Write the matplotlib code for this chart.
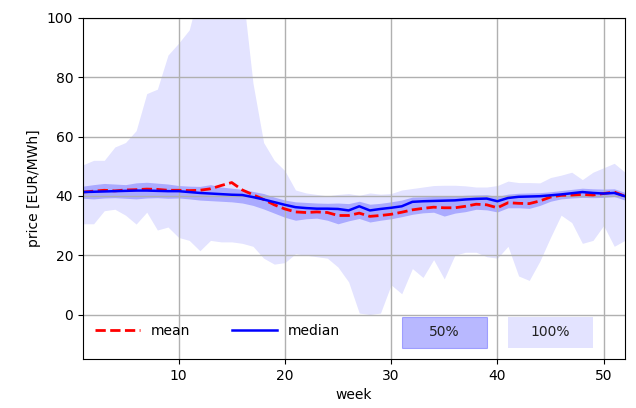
import numpy as np
import matplotlib
matplotlib.use("Agg")
import matplotlib.pyplot as plt
from matplotlib.patches import Rectangle

# weekly price statistics [EUR/MWh]
weeks = np.arange(1, 53)

median = [41.3, 41.4, 41.5, 41.6, 41.7, 41.8, 41.8, 41.7, 41.6, 41.6,
          41.3, 41.0, 40.8, 40.6, 40.4, 40.3, 39.6, 38.8, 37.9, 37.0,
          36.2, 35.9, 35.7, 35.7, 35.6, 35.1, 36.5, 35.1, 35.6, 36.0,
          36.5, 38.0, 38.2, 38.3, 38.4, 38.5, 38.8, 39.0, 39.1, 38.2,
          39.3, 39.7, 39.8, 39.9, 40.2, 40.5, 40.9, 41.3, 41.0, 40.8,
          41.0, 39.9]

mean = [41.3, 41.6, 41.9, 41.7, 42.0, 42.1, 42.3, 42.2, 41.9, 41.9,
        41.8, 41.9, 42.4, 43.5, 44.5, 42.0, 40.4, 38.8, 37.0, 35.6,
        34.6, 34.4, 34.6, 34.4, 33.4, 33.4, 34.2, 33.1, 33.4, 33.8,
        34.5, 35.3, 35.8, 36.2, 36.0, 36.0, 36.5, 37.2, 37.0, 36.0,
        37.7, 37.5, 37.4, 38.3, 39.6, 40.2, 40.3, 40.5, 40.3, 40.8,
        41.3, 39.9]

q75 = [43.3, 43.8, 44.2, 44.0, 43.8, 44.4, 44.6, 44.3, 44.0, 43.5,
       43.3, 43.2, 43.8, 43.0, 42.6, 42.2, 41.5, 40.8, 39.6, 38.6,
       38.0, 37.8, 37.6, 37.5, 37.6, 37.4, 38.2, 37.2, 37.5, 38.0,
       38.6, 39.6, 39.7, 39.8, 39.9, 40.0, 40.2, 40.3, 40.4, 39.8,
       40.6, 40.9, 41.0, 41.1, 41.4, 41.8, 42.2, 42.6, 42.4, 42.3,
       42.4, 41.2]

q25 = [39.2, 39.0, 39.3, 39.4, 39.2, 39.0, 39.3, 39.4, 39.2, 39.3,
       39.0, 38.6, 38.4, 38.2, 38.0, 37.6, 36.8, 35.6, 34.2, 32.8,
       31.8, 32.3, 32.5, 31.8, 30.6, 31.6, 32.4, 31.2, 31.8, 32.3,
       33.0, 33.8, 34.3, 34.5, 33.2, 34.2, 34.7, 35.5, 35.3, 34.6,
       36.0, 36.0, 35.8, 36.8, 38.2, 39.0, 39.3, 39.5, 39.4, 39.5,
       39.8, 38.6]

pmax = [50.5, 52.0, 52.0, 56.5, 58.0, 62.0, 74.5, 76.0, 87.5, 91.5,
        96.0, 110.0, 120.0, 125.0, 120.0, 110.0, 78.0, 58.0, 52.0, 48.5,
        42.0, 41.0, 40.5, 40.0, 40.5, 40.8, 40.2, 41.0, 40.6, 40.8,
        42.0, 42.5, 43.0, 43.5, 43.6, 43.6, 43.4, 43.0, 43.0, 43.5,
        45.0, 44.5, 44.5, 44.4, 46.2, 47.0, 48.0, 45.5, 48.0, 49.5,
        51.0, 48.0]

pmin = [30.6, 30.6, 35.0, 35.5, 33.5, 30.5, 34.5, 28.5, 29.5, 26.0,
        25.0, 21.5, 25.0, 24.5, 24.5, 24.0, 23.0, 19.0, 17.0, 17.5,
        20.5, 20.0, 19.5, 19.0, 16.0, 11.0, 0.5, 0.0, 0.5, 10.0,
        7.0, 15.5, 12.5, 18.5, 12.0, 20.0, 21.0, 21.0, 19.5, 19.0,
        23.0, 13.0, 11.5, 18.0, 26.0, 33.5, 31.0, 24.0, 25.0, 30.0,
        23.0, 25.0]

fig = plt.figure(figsize=(6.36, 4.08), dpi=100)
ax = fig.add_axes([0.1305, 0.12, 0.852, 0.836])

ax.fill_between(weeks, pmin, pmax, color='blue', alpha=0.11, linewidth=0)
ax.fill_between(weeks, q25, q75, color='blue', alpha=0.25, linewidth=0)
ax.plot(weeks, mean, 'r--', linewidth=2, label='mean')
ax.plot(weeks, median, 'b-', linewidth=1.8, label='median')

# band legend boxes
ax.add_patch(Rectangle((31, -11.2), 8, 10.3, facecolor='blue', alpha=0.28,
                       edgecolor='blue', linewidth=0.8))
ax.text(35, -6, '50%', ha='center', va='center', fontsize=10, color='#222222')
ax.add_patch(Rectangle((41, -11.2), 8, 10.3, facecolor='blue', alpha=0.11,
                       linewidth=0))
ax.text(45, -6, '100%', ha='center', va='center', fontsize=10, color='#222222')

ax.legend(loc='lower left', ncol=2, frameon=False, handlelength=3.2,
          columnspacing=3.0, bbox_to_anchor=(0.0, 0.025))

ax.set_xlim(1, 52)
ax.set_ylim(-15, 100)
ax.set_yticks([0, 20, 40, 60, 80, 100])
ax.set_xticks([10, 20, 30, 40, 50])
ax.grid(True, color='#b0b0b0', linewidth=1)
ax.set_xlabel('week')
ax.set_ylabel('price [EUR/MWh]')

fig.savefig('out.png', dpi=100)
